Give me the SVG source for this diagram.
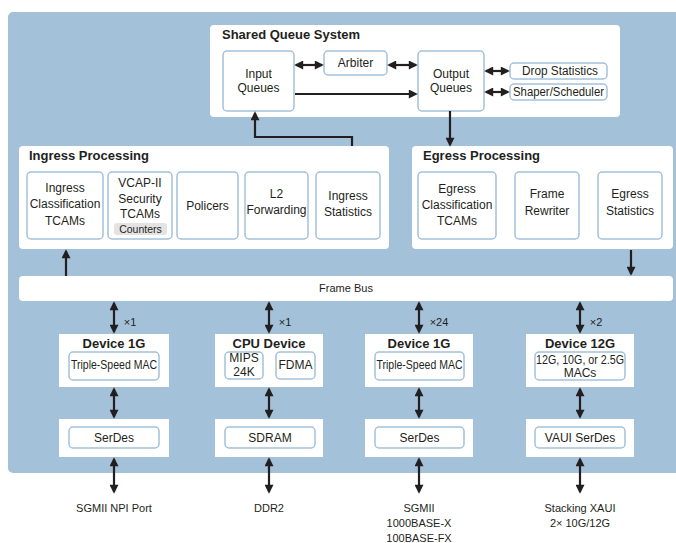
<svg xmlns="http://www.w3.org/2000/svg" width="676" height="543" viewBox="0 0 676 543">
<defs>
<marker id="ah" viewBox="0 0 10 10" refX="8" refY="5" markerWidth="10" markerHeight="9" markerUnits="userSpaceOnUse" orient="auto-start-reverse">
<path d="M0,0 L10,5 L0,10 z" fill="#231f20"/>
</marker>
<style>
.bg{fill:#a4c1da}
.panel{fill:#ffffff}
.box{fill:#ffffff;stroke:#a4c1da;stroke-width:1.5}
.pill{fill:#e3e3e3}
text{font-family:"Liberation Sans",Arial,sans-serif;fill:#231f20;text-anchor:middle}
.t{font-size:12px}
.s{font-size:11px}
.n{font-size:12px}
.h{font-size:13px;font-weight:bold;text-anchor:start}
.d{font-size:13px;font-weight:bold}
.c{font-size:10.5px}
.line{fill:none;stroke:#231f20;stroke-width:2.2}
.one{marker-end:url(#ah)}
.two{marker-start:url(#ah);marker-end:url(#ah)}
</style>
</defs>
<rect class="bg" x="8" y="12" width="672" height="461" rx="5"/>

<g id="shared-queue-system">
<rect class="panel" x="210" y="25" width="410" height="92" rx="4"/>
<text class="h" x="222" y="39">Shared Queue System</text>
</g>
<g id="input-queues">
<rect class="box" x="223" y="51" width="71" height="60" rx="4"/>
<text class="t" x="258.5" y="78">Input</text>
<text class="t" x="258.5" y="92">Queues</text>
</g>
<g id="arbiter">
<rect class="box" x="324" y="51" width="63" height="24" rx="4"/>
<text class="t" x="355.5" y="67">Arbiter</text>
</g>
<g id="output-queues">
<rect class="box" x="418" y="51" width="66" height="60" rx="4"/>
<text class="t" x="451" y="78">Output</text>
<text class="t" x="451" y="92">Queues</text>
</g>
<g id="drop-statistics">
<rect class="box" x="510" y="63" width="97" height="16" rx="4"/>
<text class="n" x="560" y="75" textLength="76" lengthAdjust="spacingAndGlyphs">Drop Statistics</text>
</g>
<g id="shaper-scheduler">
<rect class="box" x="510" y="84" width="97" height="16" rx="4"/>
<text class="n" x="558.5" y="96" textLength="91" lengthAdjust="spacingAndGlyphs">Shaper/Scheduler</text>
</g>

<g id="ingress-processing">
<rect class="panel" x="19" y="146" width="370" height="103" rx="4"/>
<text class="h" x="29" y="160">Ingress Processing</text>
</g>
<g id="ingress-classification">
<rect class="box" x="27" y="172" width="76" height="67" rx="4"/>
<text class="t" x="65" y="192">Ingress</text>
<text class="t" x="65" y="208">Classification</text>
<text class="t" x="65" y="225">TCAMs</text>
</g>
<g id="vcap-ii">
<rect class="box" x="108" y="172" width="64" height="67" rx="4"/>
<text class="t" x="140" y="187">VCAP-II</text>
<text class="t" x="140" y="203">Security</text>
<text class="t" x="140" y="218">TCAMs</text>
<rect class="pill" x="114" y="223" width="53" height="12" rx="3"/>
<text class="c" x="140.5" y="233">Counters</text>
</g>
<g id="policers">
<rect class="box" x="177" y="172" width="61" height="67" rx="4"/>
<text class="t" x="207.5" y="210">Policers</text>
</g>
<g id="l2-forwarding">
<rect class="box" x="245" y="172" width="63" height="67" rx="4"/>
<text class="t" x="276.5" y="198">L2</text>
<text class="t" x="276.5" y="214">Forwarding</text>
</g>
<g id="ingress-statistics">
<rect class="box" x="316" y="172" width="64" height="67" rx="4"/>
<text class="t" x="348" y="200">Ingress</text>
<text class="t" x="348" y="216">Statistics</text>
</g>

<g id="egress-processing">
<rect class="panel" x="412" y="146" width="261" height="103" rx="4"/>
<text class="h" x="423" y="160">Egress Processing</text>
</g>
<g id="egress-classification">
<rect class="box" x="418" y="172" width="78" height="67" rx="4"/>
<text class="t" x="457" y="193">Egress</text>
<text class="t" x="457" y="209">Classification</text>
<text class="t" x="457" y="225">TCAMs</text>
</g>
<g id="frame-rewriter">
<rect class="box" x="515" y="172" width="64" height="67" rx="4"/>
<text class="t" x="547" y="198">Frame</text>
<text class="t" x="547" y="215">Rewriter</text>
</g>
<g id="egress-statistics">
<rect class="box" x="598" y="172" width="64" height="67" rx="4"/>
<text class="t" x="630" y="198">Egress</text>
<text class="t" x="630" y="215">Statistics</text>
</g>

<g id="frame-bus">
<rect class="panel" x="19" y="276" width="654" height="25" rx="4"/>
<text class="s" x="346" y="292">Frame Bus</text>
</g>

<g id="device-1g-a">
<rect class="panel" x="59" y="334" width="110" height="53"/>
<text class="d" x="114" y="348">Device 1G</text>
<rect class="box" x="69" y="352" width="90" height="28" rx="4"/>
<text class="n" x="114" y="369" textLength="86" lengthAdjust="spacingAndGlyphs">Triple-Speed MAC</text>
</g>
<g id="serdes-a">
<rect class="panel" x="59" y="419" width="110" height="38"/>
<rect class="box" x="69" y="427" width="90" height="21" rx="4"/>
<text class="t" x="114" y="442">SerDes</text>
</g>
<g id="cpu-device">
<rect class="panel" x="215" y="334" width="108" height="53"/>
<text class="d" x="269" y="348">CPU Device</text>
<rect class="box" x="225" y="352" width="38" height="27" rx="4"/>
<text class="t" x="244" y="362">MIPS</text>
<text class="t" x="244" y="376">24K</text>
<rect class="box" x="276" y="352" width="39" height="27" rx="4"/>
<text class="t" x="295.5" y="369">FDMA</text>
</g>
<g id="sdram">
<rect class="panel" x="215" y="419" width="108" height="38"/>
<rect class="box" x="225" y="427" width="90" height="21" rx="4"/>
<text class="t" x="270" y="442">SDRAM</text>
</g>
<g id="device-1g-b">
<rect class="panel" x="365" y="334" width="108" height="53"/>
<text class="d" x="419" y="348">Device 1G</text>
<rect class="box" x="375" y="352" width="89" height="28" rx="4"/>
<text class="n" x="419.5" y="369" textLength="86" lengthAdjust="spacingAndGlyphs">Triple-Speed MAC</text>
</g>
<g id="serdes-b">
<rect class="panel" x="365" y="419" width="108" height="38"/>
<rect class="box" x="375" y="427" width="89" height="21" rx="4"/>
<text class="t" x="419.5" y="442">SerDes</text>
</g>
<g id="device-12g">
<rect class="panel" x="526" y="334" width="108" height="53"/>
<text class="d" x="580" y="348">Device 12G</text>
<rect class="box" x="535" y="352" width="90" height="28" rx="4"/>
<text class="n" x="580" y="364" textLength="88" lengthAdjust="spacingAndGlyphs">12G, 10G, or 2.5G</text>
<text class="n" x="580" y="377">MACs</text>
</g>
<g id="vaui-serdes">
<rect class="panel" x="526" y="419" width="108" height="38"/>
<rect class="box" x="535" y="427" width="90" height="21" rx="4"/>
<text class="t" x="580" y="442">VAUI SerDes</text>
</g>

<g id="connectors">
<line class="line two" x1="296" y1="65" x2="322" y2="65"/>
<line class="line two" x1="389" y1="65" x2="416" y2="65"/>
<line class="line two" x1="486" y1="71" x2="508" y2="71"/>
<line class="line two" x1="486" y1="92" x2="508" y2="92"/>
<line class="line one" x1="295" y1="94" x2="416" y2="94"/>
<line class="line one" x1="450" y1="111" x2="450" y2="145"/>
<path class="line one" d="M352,146 V137 H255 V113"/>
<line class="line one" x1="66" y1="276" x2="66" y2="251"/>
<line class="line one" x1="631" y1="250" x2="631" y2="274"/>

<line class="line two" x1="114" y1="303" x2="114" y2="332"/>
<line class="line two" x1="269" y1="303" x2="269" y2="332"/>
<line class="line two" x1="419" y1="303" x2="419" y2="332"/>
<line class="line two" x1="580" y1="303" x2="580" y2="332"/>

<line class="line two" x1="114" y1="389" x2="114" y2="417"/>
<line class="line two" x1="269" y1="389" x2="269" y2="417"/>
<line class="line two" x1="419" y1="389" x2="419" y2="417"/>
<line class="line two" x1="580" y1="389" x2="580" y2="417"/>

<line class="line two" x1="114" y1="459" x2="114" y2="492"/>
<line class="line two" x1="269" y1="459" x2="269" y2="492"/>
<line class="line two" x1="419" y1="459" x2="419" y2="492"/>
<line class="line two" x1="580" y1="459" x2="580" y2="492"/>

<text class="s" x="130" y="326">×1</text>
<text class="s" x="285" y="326">×1</text>
<text class="s" x="439" y="326">×24</text>
<text class="s" x="596" y="326">×2</text>
</g>

<g id="external-labels">
<text class="s" x="114" y="512">SGMII NPI Port</text>
<text class="s" x="269" y="512">DDR2</text>
<text class="s" x="419" y="512">SGMII</text>
<text class="s" x="419" y="527">1000BASE-X</text>
<text class="s" x="419" y="542">100BASE-FX</text>
<text class="s" x="580" y="512">Stacking XAUI</text>
<text class="s" x="580" y="527">2× 10G/12G</text>
</g>
</svg>
